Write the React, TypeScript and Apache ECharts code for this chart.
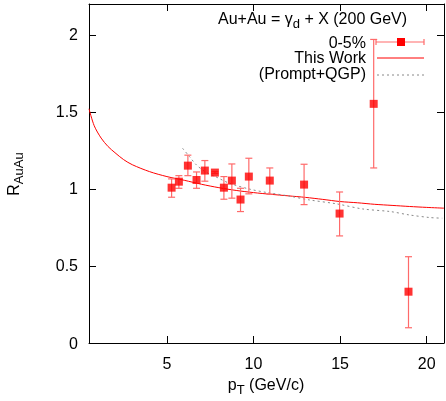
import React, { useEffect, useRef } from 'react';
import * as echarts from 'echarts';

// Data points (0-5% centrality)
const ptData = [5.27, 5.69, 6.21, 6.71, 7.19, 7.77, 8.29, 8.75, 9.25, 9.73, 10.94, 12.92, 14.97, 16.94, 18.95];
const raaData = [1.008, 1.047, 1.151, 1.058, 1.119, 1.106, 1.008, 1.054, 0.931, 1.08, 1.054, 1.028, 0.84, 1.552, 0.333];
const raaLow = [0.946, 1.004, 1.086, 1.004, 1.05, 1.1, 0.933, 0.94, 0.853, 0.968, 0.966, 0.898, 0.695, 1.136, 0.099];
const raaHigh = [1.065, 1.086, 1.219, 1.11, 1.184, 1.112, 1.08, 1.162, 1.004, 1.199, 1.136, 1.16, 0.98, 1.97, 0.56];

// "This Work" curve
const workPt = [0.5, 0.8, 1.2, 1.6, 2, 2.5, 3, 4, 5, 6, 7, 8, 9, 10, 11, 12, 13, 14, 15, 16, 17, 18, 19, 20, 21];
const workRaa = [1.52, 1.41, 1.33, 1.275, 1.235, 1.19, 1.157, 1.112, 1.08, 1.056, 1.03, 1.008, 0.99, 0.976, 0.965, 0.955, 0.945, 0.932, 0.918, 0.91, 0.9, 0.893, 0.886, 0.88, 0.875];

// "(Prompt+QGP)" curve
const qgpPt = [5.9, 6.3, 6.7, 7.2, 7.8, 8.6, 9.8, 10.8, 12, 13.2, 14.8, 16.3, 17.9, 19, 20.2, 20.9];
const qgpRaa = [1.264, 1.21, 1.156, 1.112, 1.08, 1.037, 0.998, 0.976, 0.955, 0.929, 0.903, 0.87, 0.853, 0.831, 0.814, 0.81];

const xTicks = [5, 10, 15, 20];
const yTicks = [0, 0.5, 1, 1.5, 2];

const FONT = '"Liberation Sans", Arial, sans-serif';
const RED = '#ff0000';
const ERR = '#ff6a6a';

export default function App() {
  const ref = useRef<HTMLDivElement>(null);
  useEffect(() => {
    if (!ref.current) return;
    const chart = echarts.init(ref.current, undefined, { renderer: 'svg' });
    const errData = ptData.map((x, i) => [x, raaData[i], raaLow[i], raaHigh[i]]);
    const axisCommon = {
      axisLine: { show: true, onZero: false, lineStyle: { color: '#000', width: 1 } },
      splitLine: { show: false },
    };
    const sub = { fontSize: 13, fontFamily: FONT, color: '#000', lineHeight: 14, padding: [7, 0, 0, 0], verticalAlign: 'top' };
    const nrm = { fontSize: 16, fontFamily: FONT, color: '#000', lineHeight: 18, verticalAlign: 'top' };
    const labelStyle = { fontSize: 16, fontFamily: FONT, color: '#000' };
    chart.setOption({
      animation: false,
      grid: { left: 89, right: 2, top: 4, bottom: 58 },
      xAxis: [
        {
          type: 'value', min: 0.5, max: 21, position: 'bottom', ...axisCommon,
          axisTick: { show: true, inside: true, length: 7, customValues: xTicks, lineStyle: { color: '#000' } },
          axisLabel: { show: true, customValues: xTicks, margin: 12, ...labelStyle },
        },
        {
          type: 'value', min: 0.5, max: 21, position: 'top', ...axisCommon,
          axisTick: { show: true, inside: true, length: 7, customValues: xTicks, lineStyle: { color: '#000' } },
          axisLabel: { show: false },
        },
      ],
      yAxis: [
        {
          type: 'value', min: 0, max: 2.2, position: 'left', ...axisCommon,
          axisTick: { show: true, inside: true, length: 7, customValues: yTicks, lineStyle: { color: '#000' } },
          axisLabel: { show: true, customValues: yTicks, margin: 11, ...labelStyle },
        },
        {
          type: 'value', min: 0, max: 2.2, position: 'right', ...axisCommon,
          axisTick: { show: true, inside: true, length: 7, customValues: yTicks, lineStyle: { color: '#000' } },
          axisLabel: { show: false },
        },
      ],
      series: [
        {
          name: 'This Work', type: 'line', data: workPt.map((x, i) => [x, workRaa[i]]),
          showSymbol: false, smooth: 0.3, lineStyle: { color: RED, width: 1 }, z: 2,
        },
        {
          name: '(Prompt+QGP)', type: 'line', data: qgpPt.map((x, i) => [x, qgpRaa[i]]),
          showSymbol: false, smooth: 0.3, lineStyle: { color: '#888', width: 1, type: [2, 3] }, z: 2,
        },
        {
          name: '0-5% err', type: 'custom', data: errData, z: 3,
          renderItem: (params: any, api: any) => {
            const x = api.value(0);
            const lo = api.coord([x, api.value(2)]);
            const hi = api.coord([x, api.value(3)]);
            const hw = 3.5;
            const st = { stroke: ERR, lineWidth: 1.2 };
            return {
              type: 'group',
              children: [
                { type: 'line', shape: { x1: lo[0], y1: lo[1], x2: hi[0], y2: hi[1] }, style: st },
                { type: 'line', shape: { x1: lo[0] - hw, y1: lo[1], x2: lo[0] + hw, y2: lo[1] }, style: st },
                { type: 'line', shape: { x1: hi[0] - hw, y1: hi[1], x2: hi[0] + hw, y2: hi[1] }, style: st },
              ],
            };
          },
        },
        {
          name: '0-5%', type: 'scatter', data: ptData.map((x, i) => [x, raaData[i]]),
          symbol: 'rect', symbolSize: 8, itemStyle: { color: RED }, z: 4,
        },
      ],
      graphic: [
        {
          type: 'text', left: 218, top: 10,
          style: {
            text: '{n|Au+Au = γ}{s|d}{n| + X (200 GeV)}',
            rich: { n: nrm, s: sub },
          },
        },
        { type: 'text', x: 366, y: 42, style: { text: '0-5%', font: `16px ${FONT}`, fill: '#000', align: 'right', verticalAlign: 'middle' } },
        { type: 'text', x: 366, y: 57.5, style: { text: 'This Work', font: `16px ${FONT}`, fill: '#000', align: 'right', verticalAlign: 'middle' } },
        { type: 'text', x: 366, y: 73, style: { text: '(Prompt+QGP)', font: `16px ${FONT}`, fill: '#000', align: 'right', verticalAlign: 'middle' } },
        { type: 'line', shape: { x1: 376, y1: 42, x2: 424, y2: 42 }, style: { stroke: ERR, lineWidth: 1.2 } },
        { type: 'line', shape: { x1: 376, y1: 39, x2: 376, y2: 45 }, style: { stroke: ERR, lineWidth: 1.2 } },
        { type: 'line', shape: { x1: 424, y1: 39, x2: 424, y2: 45 }, style: { stroke: ERR, lineWidth: 1.2 } },
        { type: 'rect', shape: { x: 397, y: 38, width: 8, height: 8 }, style: { fill: RED } },
        { type: 'line', shape: { x1: 377, y1: 58, x2: 424, y2: 58 }, style: { stroke: RED, lineWidth: 1 } },
        { type: 'line', shape: { x1: 377, y1: 75, x2: 424, y2: 75 }, style: { stroke: '#888', lineWidth: 1, lineDash: [2, 3] } },
        {
          type: 'text', x: 266, y: 385,
          style: {
            text: '{n|p}{s|T}{n| (GeV/c)}',
            rich: { n: nrm, s: sub },
            align: 'center', verticalAlign: 'middle',
          },
        },
        {
          type: 'text', x: 14, y: 174, rotation: Math.PI / 2,
          style: {
            text: '{n|R}{s|AuAu}',
            rich: { n: nrm, s: sub },
            align: 'center', verticalAlign: 'middle',
          },
        },
      ],
    });
    return () => chart.dispose();
  }, []);
  return <div ref={ref} style={{ position: 'fixed', left: 0, top: 0, width: 446, height: 401 }} />;
}
